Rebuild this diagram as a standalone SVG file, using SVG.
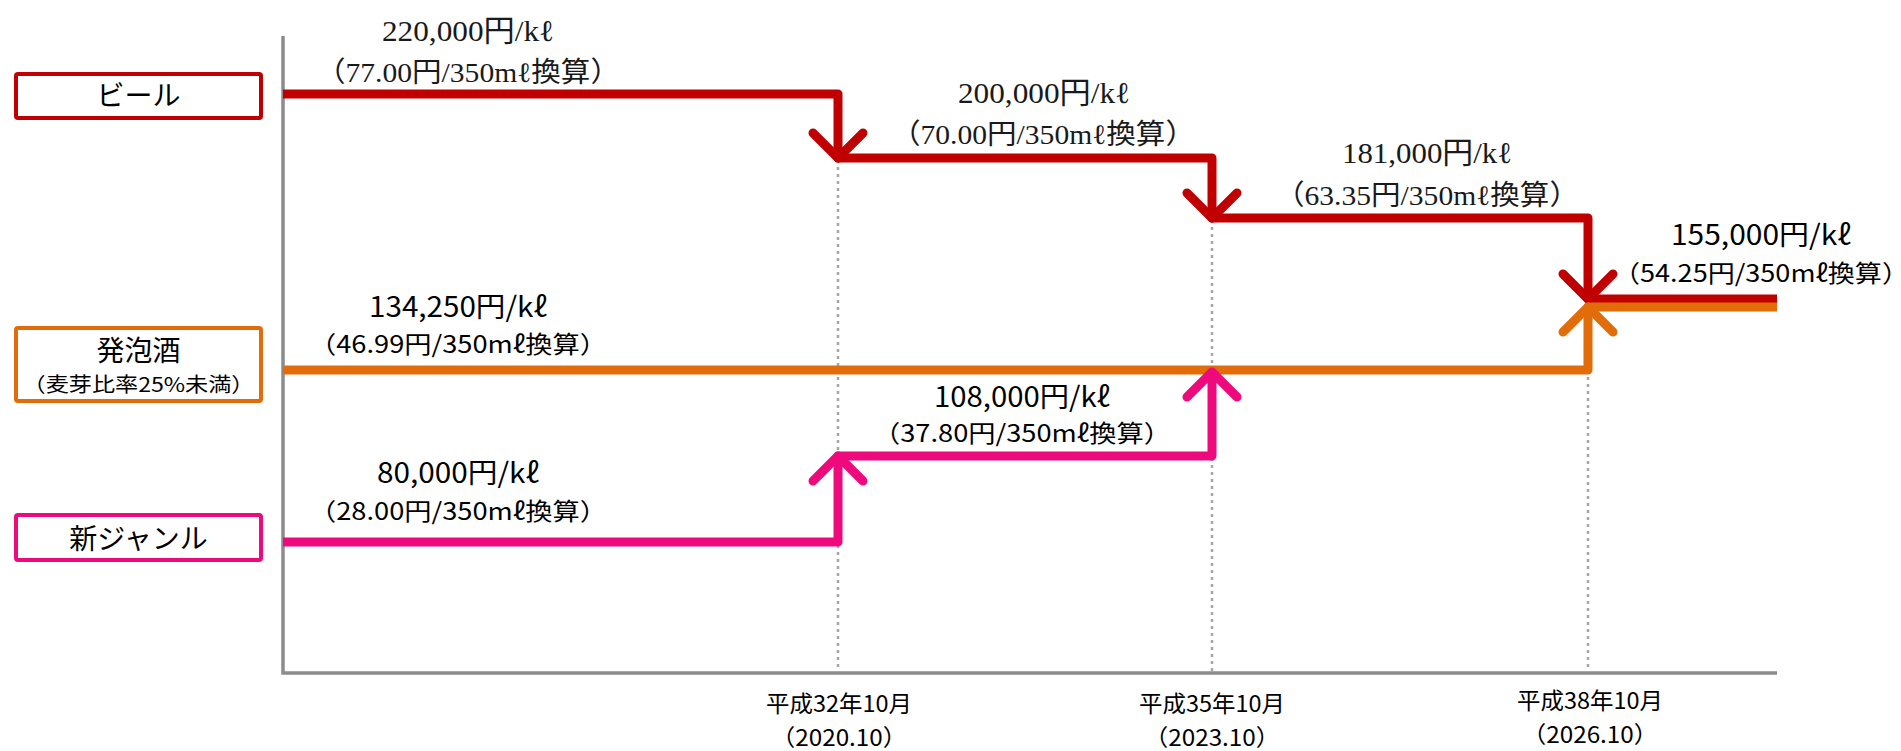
<svg xmlns="http://www.w3.org/2000/svg" width="1901" height="751" viewBox="0 0 1901 751">
<style>
.bg{fill:#ffffff}
.box{fill:#ffffff;stroke-width:4}
.lbl{font-family:"Noto Sans CJK JP","Noto Sans",sans-serif;fill:#000;text-anchor:middle}
.ser{font-family:"Liberation Serif","Noto Sans CJK JP",serif;fill:#1a1a1a;text-anchor:middle}
.san{font-family:"Noto Sans CJK JP","Noto Sans",sans-serif;fill:#000;text-anchor:middle}
.ln{fill:none;stroke-width:9;stroke-linejoin:round}
.ah{fill:none;stroke-width:9;stroke-linecap:round;stroke-linejoin:round}
.red{stroke:#C00000}
.org{stroke:#E36C0A}
.pnk{stroke:#EE0A7C}
.dot{stroke:#a6a6a6;stroke-width:2.5;stroke-dasharray:3 4}
.axis{stroke:#8c8c8c;stroke-width:3.5;fill:none}
</style>
<rect class="bg" x="0" y="0" width="1901" height="751"/>
<g id="grid">
<line class="dot" x1="838" y1="160" x2="838" y2="671"/>
<line class="dot" x1="1212" y1="220" x2="1212" y2="671"/>
<line class="dot" x1="1588" y1="300" x2="1588" y2="671"/>
</g>
<g id="axes">
<polyline class="axis" points="283,36 283,673 1777,673"/>
</g>
<g id="connectors">
<path class="ln red" d="M283,94 H838 V158 H1212 V218 H1588 V299 H1777"/>
<polyline class="ah red" points="813,133 838,158 863,133"/>
<polyline class="ah red" points="1187,193 1212,218 1237,193"/>
<polyline class="ah red" points="1563,274 1588,299 1613,274"/>
<path class="ln org" d="M283,370 H1588 V307 H1777"/>
<polyline class="ah org" points="1563,332 1588,307 1613,332"/>
<path class="ln pnk" d="M283,542 H838 V456 H1212 V372"/>
<polyline class="ah pnk" points="813,481 838,456 863,481"/>
<polyline class="ah pnk" points="1187,397 1212,372 1237,397"/>
</g>
<g id="node-beer">
<rect class="box" x="16" y="74" width="245" height="44" rx="2" stroke="#C00000"/>
<text class="lbl" x="138.5" y="106" font-size="28">ビール</text>
</g>
<g id="node-happoshu">
<rect class="box" x="16" y="328" width="245" height="73" rx="2" stroke="#E36C0A"/>
<text class="lbl" x="138.5" y="361" font-size="28">発泡酒</text>
<text class="lbl" x="138.5" y="392" font-size="20" textLength="232" lengthAdjust="spacingAndGlyphs">（麦芽比率25%未満）</text>
</g>
<g id="node-shingenre">
<rect class="box" x="16" y="515" width="245" height="45" rx="2" stroke="#EE0A7C"/>
<text class="lbl" x="138.5" y="549" font-size="28">新ジャンル</text>
</g>
<g id="labels-beer">
<text class="ser" x="468" y="41" font-size="30" textLength="172" lengthAdjust="spacingAndGlyphs">220,000円/kℓ</text>
<text class="ser" x="468" y="82" font-size="28" textLength="304" lengthAdjust="spacingAndGlyphs">（77.00円/350mℓ換算）</text>
<text class="ser" x="1044" y="103" font-size="30" textLength="172" lengthAdjust="spacingAndGlyphs">200,000円/kℓ</text>
<text class="ser" x="1043" y="144" font-size="28" textLength="304" lengthAdjust="spacingAndGlyphs">（70.00円/350mℓ換算）</text>
<text class="ser" x="1427" y="163" font-size="30" textLength="170" lengthAdjust="spacingAndGlyphs">181,000円/kℓ</text>
<text class="ser" x="1427" y="205" font-size="28" textLength="304" lengthAdjust="spacingAndGlyphs">（63.35円/350mℓ換算）</text>
<text class="san" x="1761" y="245" font-size="28" textLength="180" lengthAdjust="spacingAndGlyphs">155,000円/kℓ</text>
<text class="san" x="1761" y="282" font-size="24" textLength="296" lengthAdjust="spacingAndGlyphs">（54.25円/350mℓ換算）</text>
</g>
<g id="labels-happoshu">
<text class="san" x="458" y="317" font-size="28" textLength="178" lengthAdjust="spacingAndGlyphs">134,250円/kℓ</text>
<text class="san" x="458" y="353" font-size="24" textLength="298" lengthAdjust="spacingAndGlyphs">（46.99円/350mℓ換算）</text>
</g>
<g id="labels-shingenre">
<text class="san" x="458" y="483" font-size="28" textLength="162" lengthAdjust="spacingAndGlyphs">80,000円/kℓ</text>
<text class="san" x="458" y="520" font-size="24" textLength="298" lengthAdjust="spacingAndGlyphs">（28.00円/350mℓ換算）</text>
<text class="san" x="1022" y="407" font-size="28" textLength="176" lengthAdjust="spacingAndGlyphs">108,000円/kℓ</text>
<text class="san" x="1022" y="442" font-size="24" textLength="298" lengthAdjust="spacingAndGlyphs">（37.80円/350mℓ換算）</text>
</g>
<g id="dates">
<text class="san" x="839" y="712" font-size="23" textLength="146" lengthAdjust="spacingAndGlyphs">平成32年10月</text>
<text class="san" x="839" y="746" font-size="23" textLength="136" lengthAdjust="spacingAndGlyphs">（2020.10）</text>
<text class="san" x="1212" y="712" font-size="23" textLength="146" lengthAdjust="spacingAndGlyphs">平成35年10月</text>
<text class="san" x="1212" y="746" font-size="23" textLength="136" lengthAdjust="spacingAndGlyphs">（2023.10）</text>
<text class="san" x="1590" y="709" font-size="23" textLength="146" lengthAdjust="spacingAndGlyphs">平成38年10月</text>
<text class="san" x="1590" y="743" font-size="23" textLength="136" lengthAdjust="spacingAndGlyphs">（2026.10）</text>
</g>
</svg>
